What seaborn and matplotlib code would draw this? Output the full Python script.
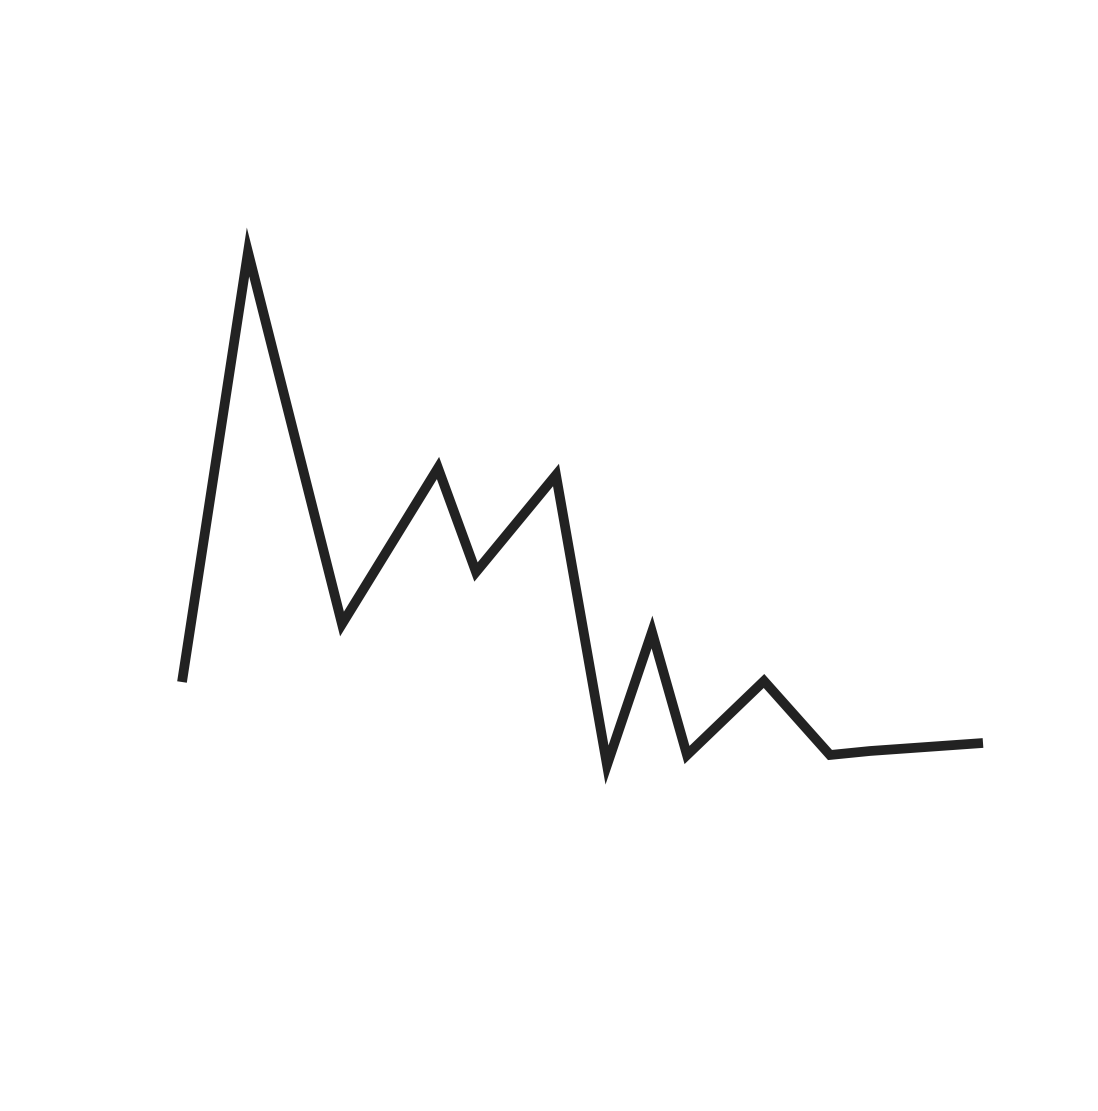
import matplotlib
matplotlib.use("Agg")
import matplotlib.pyplot as plt
import seaborn as sns
import pandas as pd

sns.set_theme(style="white")

x_vals = [182, 248, 342, 438, 476, 556, 607, 652, 687, 764, 830, 870, 983]
y_vals = [429, 859, 487, 643, 539, 636, 346, 479, 356, 430, 356, 360, 368]

df = pd.DataFrame({"x": x_vals, "y": y_vals})

fig = plt.figure(figsize=(10.98, 11.11), dpi=100)
ax = fig.add_axes([0, 0, 1, 1])
sns.lineplot(data=df, x="x", y="y", ax=ax, color="#222222", linewidth=7,
             solid_joinstyle="miter", solid_capstyle="butt", sort=False)
ax.set_xlim(0, 1098)
ax.set_ylim(0, 1111)
ax.axis("off")
fig.savefig("out.png", dpi=100, facecolor="white")
